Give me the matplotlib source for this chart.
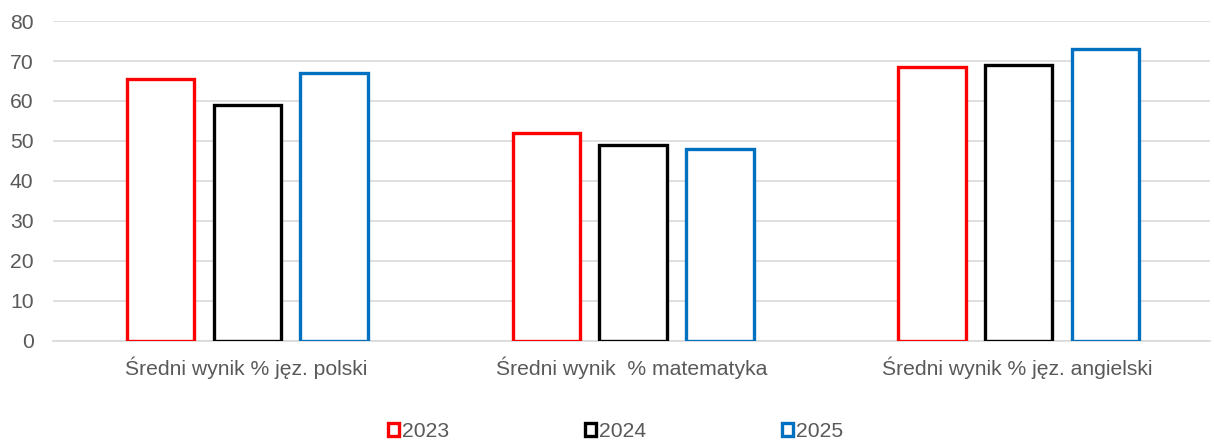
import matplotlib
matplotlib.use("Agg")
import matplotlib.pyplot as plt
from matplotlib.patches import Patch
import numpy as np

categories = ["Średni wynik % jęz. polski", "Średni wynik  % matematyka", "Średni wynik % jęz. angielski"]
series_names = ["2023", "2024", "2025"]
v2023 = [65.5, 52, 68.5]
v2024 = [59, 49, 69]
v2025 = [67, 48, 73]
colors = ["#ff0000", "#000000", "#0070c0"]

plt.rcParams['font.family'] = ['Liberation Sans', 'DejaVu Sans']
fig = plt.figure(figsize=(12.14, 4.44), dpi=100)
ax = fig.add_axes([0.0437, 0.232, 0.953, 0.7207])

x = np.arange(len(categories))
width = 0.175
offsets = [-0.225, 0, 0.225]
for vals, off, c in zip([v2023, v2024, v2025], offsets, colors):
    ax.bar(x + off + 0.004, vals, width, facecolor="white", edgecolor=c, linewidth=2.4, zorder=3)

ax.set_xlim(-0.5, 2.5)
ax.set_ylim(0, 80)
ax.set_yticks(range(0, 81, 10))
ax.set_xticks(x)
ax.set_xticklabels(categories)
ax.yaxis.grid(True, color="#d9d9d9", linewidth=1.2, zorder=0)
for s in ["left", "right", "top"]:
    ax.spines[s].set_visible(False)
ax.spines["bottom"].set_color("#d9d9d9")
ax.spines["bottom"].set_linewidth(1.2)
ax.tick_params(axis="both", length=0, colors="#595959", labelsize=15.2)
ax.tick_params(axis="x", pad=11)
ax.tick_params(axis="y", pad=14)

handles = [Patch(facecolor="white", edgecolor=c, linewidth=2.4) for c in colors]
fig.legend(handles, series_names, loc="lower center", bbox_to_anchor=(0.507, -0.036), ncol=3,
           frameon=False, fontsize=15.2, labelcolor="#595959", handlelength=0.55, handleheight=0.55,
           handletextpad=0.15, columnspacing=6.4)

fig.savefig("out.png", dpi=100)
